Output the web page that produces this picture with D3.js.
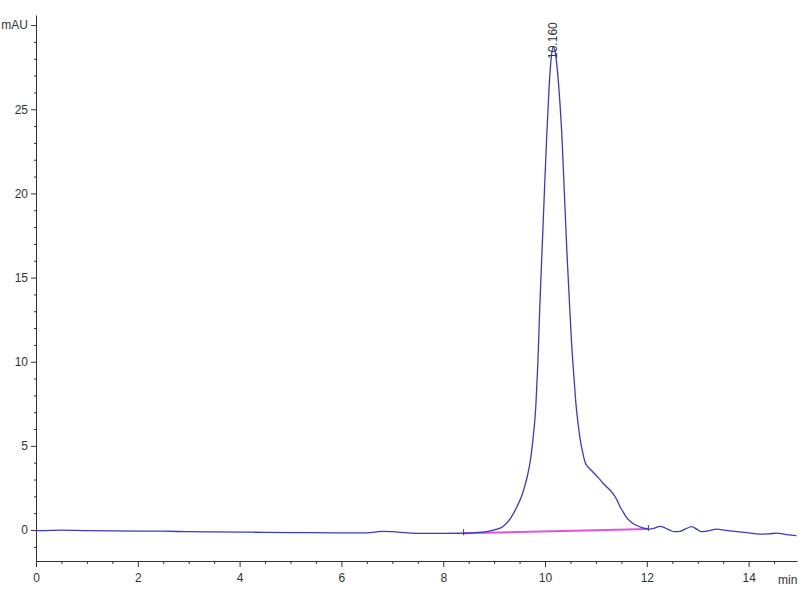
<!DOCTYPE html>
<html>
<head>
<meta charset="utf-8">
<script src="https://cdn.jsdelivr.net/npm/d3@7"></script>
<style>
  html, body { margin: 0; padding: 0; background: #fff; overflow: hidden; }
  svg { display: block; }
  .ax text { font-family: "Liberation Sans Narrow", "Liberation Sans", Arial, sans-serif; font-size: 12px; fill: #333; }
  .ax path, .ax line { stroke: #333; }
</style>
</head>
<body>
<svg id="chart" width="800" height="600"></svg>
<script>
// ---- data ----
const times = [0, 0.5, 1, 1.5, 2, 2.5, 3, 3.5, 4, 4.5, 5, 5.5, 6, 6.5, 6.8, 7.0, 7.3, 7.6, 8.0, 8.4,
  8.7, 8.9, 9.05, 9.17, 9.3, 9.45, 9.55, 9.61, 9.66, 9.71, 9.76, 9.82, 9.86, 9.9, 9.96, 10.03, 10.08, 10.12,
  10.16, 10.2, 10.24, 10.29, 10.33, 10.38, 10.43, 10.48, 10.52, 10.57, 10.61, 10.65, 10.69, 10.74,
  10.79, 10.86, 10.94, 11.05, 11.15, 11.25, 11.34, 11.41, 11.47, 11.54, 11.6, 11.7, 11.8, 11.9, 12.0,
  12.06, 12.15, 12.26, 12.36, 12.46, 12.55, 12.65, 12.75, 12.88, 12.98, 13.08, 13.2, 13.37, 13.55,
  13.77, 14.0, 14.22, 14.4, 14.55, 14.75, 14.94];
const signal = [-0.04, 0.0, -0.03, -0.05, -0.06, -0.07, -0.1, -0.11, -0.12, -0.14, -0.15, -0.16, -0.17,
  -0.17, -0.08, -0.1, -0.17, -0.2, -0.2, -0.19,
  -0.14, -0.06, 0.05, 0.2, 0.6, 1.4, 2.1, 2.7, 3.3, 4.1, 5.3, 7.4, 10.0, 13.5, 18.0, 23.2, 26.3, 28.0,
  28.7, 28.4, 27.4, 25.5, 23.5, 20.0, 16.5, 13.5, 11.2, 9.0, 7.4, 6.3, 5.4, 4.6,
  4.0, 3.7, 3.45, 3.1, 2.75, 2.45, 2.15, 1.8, 1.4, 1.05, 0.75, 0.45, 0.27, 0.15, 0.08,
  0.05, 0.12, 0.22, 0.12, -0.02, -0.1, -0.08, 0.05, 0.2, 0.05, -0.1, -0.05, 0.05, -0.02,
  -0.1, -0.17, -0.24, -0.23, -0.18, -0.27, -0.33];
const baselineTimes = [8.4, 12.03];
const baselineValues = [-0.19, 0.06];
const peakTime = 10.16;
const peakValue = 28.7;
const peakLabel = "10.160";
const xTicks = [0, 2, 4, 6, 8, 10, 12, 14];
const yTicks = [0, 5, 10, 15, 20, 25, 30];
const yTickLabels = ["0", "5", "10", "15", "20", "25", "mAU"];
const xUnit = "min";

// ---- scales ----
const svg = d3.select("#chart");
const x = d3.scaleLinear().domain([0, 14.95]).range([36, 797]);
const y = d3.scaleLinear().domain([-1.84, 30.6]).range([561, 15]);

// minor ticks
const xMinor = d3.range(0, 15, 0.5).filter(v => !xTicks.includes(v));
const yMinor = d3.range(-1, 31, 1).filter(v => !yTicks.includes(v));

const gx = svg.append("g").attr("class", "ax").attr("transform", `translate(0,${y.range()[0]})`);
gx.call(d3.axisBottom(x).tickValues(xMinor).tickSize(3).tickFormat("").tickSizeOuter(0));
const gx2 = svg.append("g").attr("class", "ax").attr("transform", `translate(0,${y.range()[0]})`);
gx2.call(d3.axisBottom(x).tickValues(xTicks).tickSize(6).tickPadding(6).tickFormat(d3.format("d")).tickSizeOuter(0));
gx2.select(".domain").remove();
svg.append("text").attr("class", "ax")
  .attr("x", 778).attr("y", 584)
  .style("font-family", "'Liberation Sans Narrow', 'Liberation Sans', Arial, sans-serif")
  .style("font-size", "12px").style("fill", "#333")
  .text(xUnit);

const gy = svg.append("g").attr("class", "ax").attr("transform", `translate(${x.range()[0]},0)`);
gy.call(d3.axisLeft(y).tickValues(yMinor).tickSize(2).tickFormat("").tickSizeOuter(0));
const gy2 = svg.append("g").attr("class", "ax").attr("transform", `translate(${x.range()[0]},0)`);
gy2.call(d3.axisLeft(y).tickValues(yTicks).tickSize(5).tickPadding(3)
  .tickFormat((d, i) => yTickLabels[i]).tickSizeOuter(0));
gy2.select(".domain").remove();

// baseline (integration)
const line = d3.line().x(d => x(d[0])).y(d => y(d[1]));
svg.append("path")
  .datum(baselineTimes.map((t, i) => [t, baselineValues[i]]))
  .attr("d", line)
  .attr("fill", "none").attr("stroke", "#e055d8").attr("stroke-width", 2);

// chromatogram
svg.append("path")
  .datum(times.map((t, i) => [t, signal[i]]))
  .attr("d", d3.line().x(d => x(d[0])).y(d => y(d[1])).curve(d3.curveMonotoneX))
  .attr("fill", "none").attr("stroke", "#3a3ac8").attr("stroke-width", 1.3);

// baseline end markers
svg.selectAll(".bm").data(baselineTimes.map((t, i) => [t, baselineValues[i]])).enter()
  .append("line")
  .attr("x1", d => x(d[0])).attr("x2", d => x(d[0]))
  .attr("y1", d => y(d[1]) - 4).attr("y2", d => y(d[1]) + 2)
  .attr("stroke", "#444").attr("stroke-width", 1);

// peak label
svg.append("text")
  .attr("transform", `translate(${x(peakTime) + 4},${y(peakValue) + 12}) rotate(-90)`)
  .style("font-family", "'Liberation Sans Narrow', 'Liberation Sans', Arial, sans-serif")
  .style("font-size", "12px").style("fill", "#333")
  .text(peakLabel);
</script>
</body>
</html>
